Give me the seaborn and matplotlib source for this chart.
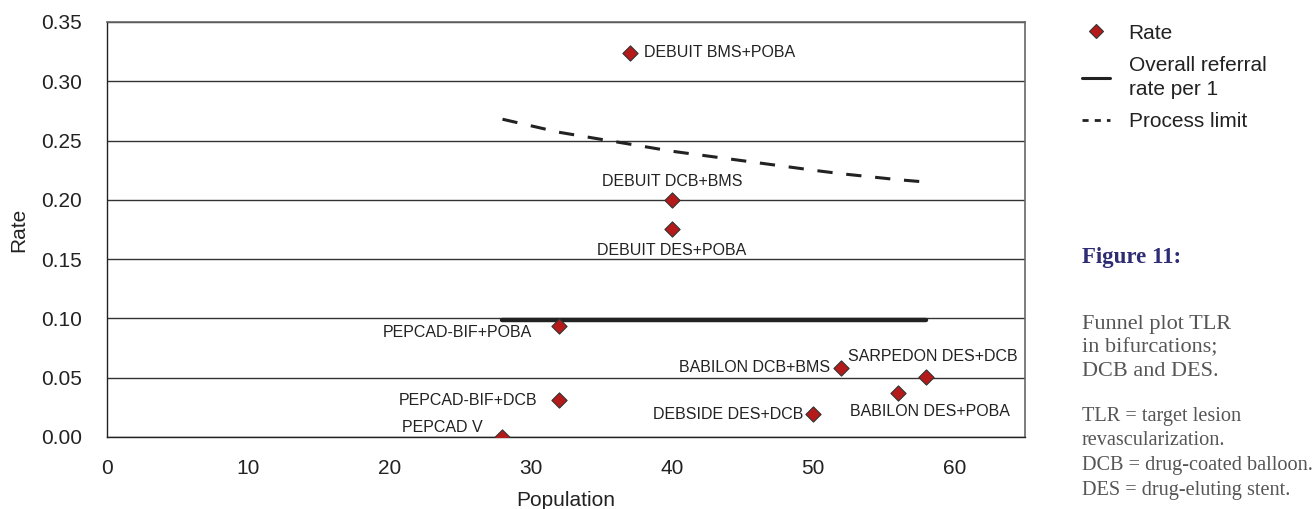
import matplotlib
matplotlib.use("Agg")
import matplotlib.pyplot as plt
import seaborn as sns
import pandas as pd
from matplotlib.lines import Line2D

# Study results: population and TLR rate
studies = ["DEBUIT BMS+POBA", "DEBUIT DCB+BMS", "DEBUIT DES+POBA",
           "PEPCAD-BIF+POBA", "PEPCAD-BIF+DCB", "PEPCAD V",
           "DEBSIDE DES+DCB", "BABILON DCB+BMS", "SARPEDON DES+DCB",
           "BABILON DES+POBA"]
population = [37, 40, 40, 32, 32, 28, 50, 52, 58, 56]
rate = [0.324, 0.200, 0.175, 0.094, 0.031, 0.000, 0.019, 0.058, 0.051, 0.037]

# Overall referral rate and upper process limit
overall_x = [28, 58]
overall_rate = [0.099, 0.099]
limit_x = [28, 32, 37, 40, 50, 52, 56, 58]
limit_rate = [0.268, 0.257, 0.247, 0.241, 0.225, 0.222, 0.217, 0.215]

x_ticks = [0, 10, 20, 30, 40, 50, 60]
y_ticks = [0.00, 0.05, 0.10, 0.15, 0.20, 0.25, 0.30, 0.35]

caption_title = "Figure 11:"
caption_main = ["Funnel plot TLR", "in bifurcations;", "DCB and DES."]
caption_notes = ["TLR = target lesion", "revascularization.",
                 "DCB = drug-coated balloon.", "DES = drug-eluting stent."]

sns.set_theme(style="white")
plt.rcParams["font.family"] = ["Liberation Sans", "DejaVu Sans"]

TEXT = "#222222"
RED = "#b51a1a"

fig = plt.figure(figsize=(13.15, 5.09), dpi=100)
ax = fig.add_axes([0.0814, 0.1415, 0.6981, 0.8153])

df = pd.DataFrame({"Population": population, "Rate": rate, "Study": studies})

# Grid lines at each y tick
for yv in y_ticks:
    ax.axhline(yv, color="#333333", lw=1.0, zorder=1)

sns.lineplot(x=overall_x, y=overall_rate, ax=ax, color="#222222", lw=3.2,
             zorder=2)
sns.lineplot(x=limit_x, y=limit_rate, ax=ax, color="#222222", lw=2.2,
             dashes=False, zorder=2)
ax.lines[-1].set_dashes((5, 4.5))
sns.scatterplot(data=df, x="Population", y="Rate", ax=ax, marker="D", s=60,
                color=RED, edgecolor="#333333", linewidth=0.8, zorder=4)

# Study labels, offsets in pixels from each marker
label_pos = {
    "DEBUIT BMS+POBA": (14, 0, "left", "center"),
    "DEBUIT DCB+BMS": (0, 18, "center", "center"),
    "DEBUIT DES+POBA": (0, -21, "center", "center"),
    "PEPCAD-BIF+POBA": (-27, -7, "right", "center"),
    "PEPCAD-BIF+DCB": (-22, 0, "right", "center"),
    "PEPCAD V": (-20, 9, "right", "center"),
    "DEBSIDE DES+DCB": (-10, 0, "right", "center"),
    "BABILON DCB+BMS": (-11, 1, "right", "center"),
    "SARPEDON DES+DCB": (7, 20, "center", "center"),
    "BABILON DES+POBA": (32, -18, "center", "center"),
}
for s, xv, yv in zip(studies, population, rate):
    dx, dy, ha, va = label_pos[s]
    ax.annotate(s, (xv, yv), xytext=(dx, dy), textcoords="offset pixels",
                ha=ha, va=va, fontsize=11.5, color=TEXT, zorder=5)

ax.set_xlim(0, 65)
ax.set_ylim(0, 0.35)
ax.set_xticks(x_ticks)
ax.set_yticks(y_ticks)
ax.set_yticklabels([f"{v:.2f}" for v in y_ticks])
ax.tick_params(axis="both", labelsize=15, colors=TEXT, length=7,
               width=1.0, direction="out")
ax.tick_params(axis="y", pad=11)
ax.tick_params(axis="x", pad=9)
ax.set_xlabel("Population", fontsize=15, color=TEXT, labelpad=9)
ax.set_ylabel("Rate", fontsize=15, color=TEXT, labelpad=9)

for side in ["left", "bottom"]:
    ax.spines[side].set_color("#222222")
    ax.spines[side].set_linewidth(1.0)
for side in ["top", "right"]:
    ax.spines[side].set_color("#666666")
    ax.spines[side].set_linewidth(1.2)

handles = [
    Line2D([], [], marker="D", ls="none", markersize=7.5,
           markerfacecolor=RED, markeredgecolor="#333333", markeredgewidth=0.8),
    Line2D([], [], color="#222222", lw=2.2),
    Line2D([], [], color="#222222", lw=2.0, ls=(0, (2.2, 2.2))),
]
labels = ["Rate", "Overall referral\nrate per 1", "Process limit"]
leg = fig.legend(handles, labels, loc="upper left",
                 bbox_to_anchor=(1063 / 1315, 1 - 5 / 509), frameon=False,
                 fontsize=15, handlelength=1.35, handletextpad=0.9,
                 labelspacing=0.65, labelcolor=TEXT)
for t in leg.get_texts():
    t.set_linespacing(1.3)

# Caption
fig.text(1082 / 1315, 1 - 258 / 509, caption_title, family="Liberation Serif",
         fontweight="bold", fontsize=16.5, color="#2e2c73", va="center")
y0 = 324
for i, line in enumerate(caption_main):
    fig.text(1082 / 1315, 1 - (y0 + 24 * i) / 509, line,
             family="Liberation Serif", fontsize=16, color="#555555",
             va="center")
y1 = 416
for i, line in enumerate(caption_notes):
    fig.text(1082 / 1315, 1 - (y1 + 24.8 * i) / 509, line,
             family="Liberation Serif", fontsize=14.6, color="#555555",
             va="center")

fig.savefig("out.png", dpi=100)
